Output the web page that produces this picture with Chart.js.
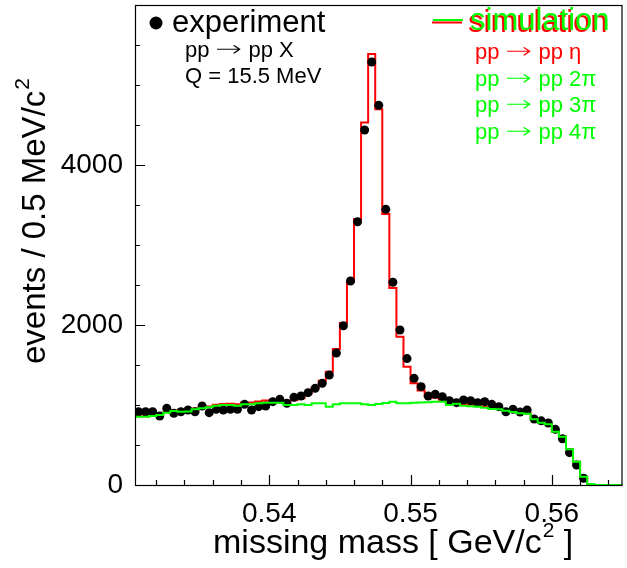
<!DOCTYPE html>
<html><head><meta charset="utf-8">
<script src="https://cdn.jsdelivr.net/npm/chart.js@4.4.1/dist/chart.umd.min.js"></script>
<style>html,body{margin:0;padding:0;background:#fff;overflow:hidden}</style>
</head><body>
<canvas id="c" width="627" height="568"></canvas>
<script>
// ---- data (bins of 0.5 MeV/c^2 starting at 0.5305 GeV/c^2) ----
const binLow = 0.5305;
const binWidth = 0.0005;
const experiment = [916,916,916,862,958,896,916,937,916,987,904,946,937,946,946,1008,937,979,987,1042,
  1071,1021,1096,1112,1154,1208,1271,1375,1650,1991,2550,3290,4437,5287,4746,3446,2534,1937,1580,1333,
  1229,1112,1133,1104,1054,1029,1062,1054,1029,1042,1008,979,916,946,912,937,825,802,775,696,
  577,404,250,84,null,null,null,null,null];
const simulation = [858,858,866,880,910,931,923,926,955,968,982,1004,1013,1015,1010,1028,1030,1045,1055,1058,
  1062,1045,1058,1083,1146,1217,1304,1417,1700,2025,2537,3325,4530,5387,4696,3387,2462,1854,1479,1271,
  1180,1110,1090,1065,1030,1038,1010,1002,993,978,960,954,936,918,901,896,824,781,760,668,
  605,447,292,104,12,0,0,0,0];
const background = [854,854,862,875,904,925,916,918,946,958,971,992,1000,1000,992,1008,1008,1021,1029,1029,
  1029,1000,1000,1008,1000,1021,1021,979,1008,1021,1021,1021,1008,1000,1012,1025,1042,1021,1021,1029,
  1032,1035,1040,1042,1000,1015,990,985,979,967,950,946,929,912,896,892,821,779,758,667,
  604,446,292,104,12,0,0,0,0];
const xTickValues = [0.54, 0.55, 0.56];
const yTickValues = [0, 2000, 4000];
const xMin = 0.5305, xMax = 0.565, yMin = 0, yMax = 6000;
const xMinorStep = 0.002, yMinorStep = 500;

const xTitle = ['missing mass [ GeV/c', '2', ' ]'];
const yTitle = ['events / 0.5 MeV/c', '2'];
const legendExp = 'experiment';
const legendSim = 'simulation';
const infoLines = [['pp', 'pp X'], ['Q = 15.5 MeV']];
const channelLines = [['pp', 'pp \u03b7'], ['pp', 'pp 2\u03c0'], ['pp', 'pp 3\u03c0'], ['pp', 'pp 4\u03c0']];
const ARROW = '\u2192';
const RED = '#ff0000', GREEN = '#00ff00';
const FONT = "'Liberation Sans', Arial, Helvetica, sans-serif";

function histPoints(vals){
  const pts = [{x: binLow, y: 0}];
  vals.forEach((v, i) => pts.push({x: binLow + i*binWidth, y: v}));
  pts.push({x: binLow + vals.length*binWidth, y: vals[vals.length-1]});
  return pts;
}
function pointData(vals){
  const pts = [];
  vals.forEach((v, i) => { if (v !== null) pts.push({x: binLow + (i+0.5)*binWidth, y: v}); });
  return pts;
}
function reaction(ctx, parts, x, y){
  ctx.font = '22px ' + FONT;
  ctx.fillText(parts[0], x, y);
  if (parts.length < 2) return;
  x += ctx.measureText(parts[0] + ' ').width;
  ctx.save();
  ctx.font = '200 22px "DejaVu Sans"';
  const w = ctx.measureText(ARROW).width;
  ctx.translate(x, y - 1); ctx.scale(1.45, 1);
  ctx.fillText(ARROW, 0, 0);
  ctx.restore();
  x += w*1.45;
  ctx.font = '22px ' + FONT;
  x += ctx.measureText(' ').width;
  ctx.fillText(parts[1], x, y);
}

const decor = {
  id: 'decor',
  afterDraw(chart){
    const ctx = chart.ctx, a = chart.chartArea;
    const xs = chart.scales.x, ys = chart.scales.y;
    ctx.save();
    ctx.strokeStyle = '#000'; ctx.lineWidth = 1.2;
    ctx.strokeRect(a.left+0.5, a.top+0.5, a.right-a.left-1, a.bottom-a.top);
    ctx.beginPath();
    for (let v = 0.532; v < xMax; v += xMinorStep){
      const px = Math.round(xs.getPixelForValue(v))+0.5;
      const major = xTickValues.some(t => Math.abs(t-v) < 1e-6);
      ctx.moveTo(px, a.bottom); ctx.lineTo(px, a.bottom - (major ? 10 : 5));
    }
    for (let v = yMinorStep; v < yMax; v += yMinorStep){
      const py = Math.round(ys.getPixelForValue(v))+0.5;
      const major = yTickValues.includes(v);
      ctx.moveTo(a.left, py); ctx.lineTo(a.left + (major ? 10 : 5), py);
    }
    ctx.stroke();
    // axis titles
    ctx.fillStyle = '#000';
    ctx.textBaseline = 'alphabetic';
    ctx.font = '34px ' + FONT;
    let x = 213, y = 553;
    ctx.fillText(xTitle[0], x, y); x += ctx.measureText(xTitle[0]).width;
    ctx.font = '21px ' + FONT; ctx.fillText(xTitle[1], x+1, y-16); x += ctx.measureText(xTitle[1]).width + 1;
    ctx.font = '34px ' + FONT; ctx.fillText(xTitle[2], x, y);
    ctx.save();
    ctx.translate(45, 0); ctx.rotate(-Math.PI/2);
    ctx.font = '33px ' + FONT;
    let t = -364;
    ctx.fillText(yTitle[0], t, 0); t += ctx.measureText(yTitle[0]).width;
    ctx.font = '21px ' + FONT; ctx.fillText(yTitle[1], t+1, -16);
    ctx.restore();
    // legend
    ctx.beginPath(); ctx.arc(156, 23, 6.5, 0, Math.PI*2); ctx.fill();
    ctx.font = '31px ' + FONT;
    ctx.fillText(legendExp, 172, 32);
    ctx.lineWidth = 2;
    ctx.strokeStyle = RED; ctx.beginPath(); ctx.moveTo(432, 22.5); ctx.lineTo(462, 22.5); ctx.stroke();
    ctx.strokeStyle = GREEN; ctx.beginPath(); ctx.moveTo(433, 20); ctx.lineTo(463, 20); ctx.stroke();
    ctx.fillStyle = RED; ctx.fillText(legendSim, 468, 32);
    ctx.fillStyle = GREEN; ctx.fillText(legendSim, 470, 29.5);
    ctx.fillStyle = '#000';
    reaction(ctx, infoLines[0], 185, 57);
    reaction(ctx, infoLines[1], 185, 83);
    channelLines.forEach((s, i) => {
      ctx.fillStyle = i === 0 ? RED : GREEN;
      reaction(ctx, s, 475, 59 + i*26.5);
    });
    ctx.restore();
  }
};

new Chart(document.getElementById('c'), {
  type: 'line',
  data: {
    datasets: [
      {label: 'simulation pp→pp η', data: histPoints(simulation), stepped: 'before', borderColor: RED,
       borderWidth: 2, pointRadius: 0, fill: false, order: 3},
      {label: 'experiment', data: pointData(experiment), showLine: false, pointRadius: 4.5,
       pointBackgroundColor: '#000', pointBorderColor: '#000', pointBorderWidth: 0, order: 2},
      {label: 'simulation multi-π', data: histPoints(background), stepped: 'before', borderColor: GREEN,
       borderWidth: 2, pointRadius: 0, fill: false, order: 1}
    ]
  },
  options: {
    responsive: false, animation: false, devicePixelRatio: 1,
    layout: {padding: {left: 0, right: 2, top: 5, bottom: 0}},
    plugins: {legend: {display: false}, tooltip: {enabled: false}},
    scales: {
      x: {type: 'linear', min: xMin, max: xMax,
          grid: {display: false, drawTicks: false}, border: {display: false},
          afterBuildTicks: s => { s.ticks = xTickValues.map(v => ({value: v})); },
          afterFit: s => { s.height = 83; s.paddingLeft = 0; s.paddingRight = 0; },
          ticks: {padding: 12, color: '#000', font: {family: FONT, size: 28},
                  callback: v => v.toFixed(2), maxRotation: 0}},
      y: {type: 'linear', min: yMin, max: yMax,
          grid: {display: false, drawTicks: false}, border: {display: false},
          afterBuildTicks: s => { s.ticks = yTickValues.map(v => ({value: v})); },
          afterFit: s => { s.width = 135; s.paddingTop = 0; s.paddingBottom = 0; },
          ticks: {padding: 12, color: '#000', font: {family: FONT, size: 28}, callback: v => String(v)}}
    }
  },
  plugins: [decor]
});
</script>
</body></html>
